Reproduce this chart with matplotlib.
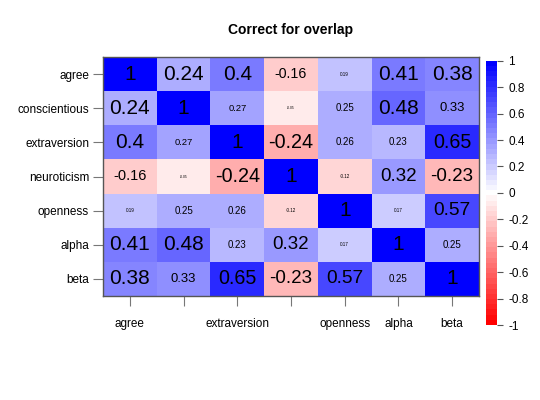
import numpy as np
import matplotlib.pyplot as plt
from matplotlib.colors import LinearSegmentedColormap, BoundaryNorm

plt.rcParams['font.family'] = ['Liberation Sans', 'DejaVu Sans']
plt.rcParams['axes.unicode_minus'] = False

# correlation matrix, corrected for overlap
labels = ['agree', 'conscientious', 'extraversion', 'neuroticism',
          'openness', 'alpha', 'beta']
x_labels = ['agree', '', 'extraversion', '', 'openness', 'alpha', 'beta']
r = np.array([
    [1.00, 0.24, 0.40, -0.16, 0.19, 0.41, 0.38],
    [0.24, 1.00, 0.27, -0.05, 0.25, 0.48, 0.33],
    [0.40, 0.27, 1.00, -0.24, 0.26, 0.23, 0.65],
    [-0.16, -0.05, -0.24, 1.00, -0.12, 0.32, -0.23],
    [0.19, 0.25, 0.26, -0.12, 1.00, 0.17, 0.57],
    [0.41, 0.48, 0.23, 0.32, 0.17, 1.00, 0.25],
    [0.38, 0.33, 0.65, -0.23, 0.57, 0.25, 1.00],
])

# relative text size of each number (scaled by significance)
txt_scale = np.array([
    [1.0, 1.0, 1.0, 0.68, 0.22, 1.0, 1.0],
    [1.0, 1.0, 0.45, 0.16, 0.47, 1.0, 0.63],
    [1.0, 0.45, 1.0, 0.95, 0.47, 0.47, 0.95],
    [0.7, 0.16, 0.95, 1.0, 0.22, 0.9, 0.9],
    [0.22, 0.47, 0.47, 0.22, 1.0, 0.22, 0.92],
    [1.0, 1.0, 0.47, 0.9, 0.22, 1.0, 0.47],
    [1.0, 0.63, 0.95, 0.9, 0.92, 0.47, 1.0],
])

n_col = 51
cmap = LinearSegmentedColormap.from_list('rwb', ['#ff0000', '#ffffff', '#0000ff'], N=n_col)
bounds = np.linspace(-1, 1, n_col + 1)
norm = BoundaryNorm(bounds, n_col)
# cells look a bit more saturated than the bar
cell_norm = BoundaryNorm(bounds * 0.8, n_col, extend='neither', clip=True)

fig = plt.figure(figsize=(5.4, 4.0), dpi=100)
ax = fig.add_axes([0.1907, 0.26, 0.6963, 0.5975])

n = len(labels)
ax.pcolormesh(np.arange(n + 1), np.arange(n + 1), r, cmap=cmap, norm=cell_norm)
ax.set_xlim(0, n)
ax.set_ylim(n, 0)

for i in range(n):
    for j in range(n):
        v = r[i, j]
        s = '1' if v == 1 else ('%.2f' % v).rstrip('0').rstrip('.')
        ax.text(j + 0.5, i + 0.5, s, ha='center', va='center',
                fontsize=15 * txt_scale[i, j], color='black')

ax.set_xticks(np.arange(n) + 0.5)
ax.set_xticklabels(x_labels, fontsize=8.5)
ax.set_yticks(np.arange(n) + 0.5)
ax.set_yticklabels(labels, fontsize=8.5)
ax.tick_params(axis='x', length=7, color='#777777', pad=9)
ax.tick_params(axis='y', length=7, color='#777777', pad=3)
for sp in ax.spines.values():
    sp.set_color('#555555')
    sp.set_linewidth(1)

fig.text(0.5375, 0.925, 'Correct for overlap', ha='center', va='center',
         fontsize=10, fontweight='bold')

# colour bar
cax = fig.add_axes([0.9, 0.1808, 0.0204, 0.674])
cax.pcolormesh([0, 1], bounds, ((bounds[:-1] + bounds[1:]) / 2)[:, None],
               cmap=cmap, norm=norm)
cax.set_xlim(0, 1)
cax.set_ylim(-1.02, 1.02)
cax.set_xticks([])
ticks = np.round(np.arange(-1, 1.01, 0.2), 1)
ticks[np.abs(ticks) < 1e-9] = 0.0
cax.yaxis.tick_right()
cax.set_yticks(ticks)
cax.set_yticklabels(['%g' % abs(t) if t == 0 else '%g' % t for t in ticks], fontsize=8.5)
cax.tick_params(axis='y', length=4, color='#555555', pad=4)
for sp in cax.spines.values():
    sp.set_visible(False)

fig.savefig('out.png', dpi=100)
